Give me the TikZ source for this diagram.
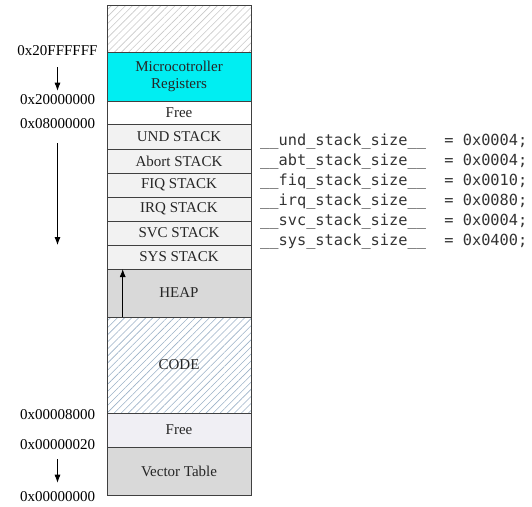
\documentclass[tikz,border=0pt]{standalone}
\usepackage{fontspec}
\setmainfont{Liberation Serif}
\setmonofont{DejaVu Sans Mono}
\usetikzlibrary{positioning,arrows.meta,patterns.meta}

\definecolor{regcyan}{RGB}{0,238,242}
\definecolor{stackgray}{RGB}{242,242,242}
\definecolor{heapgray}{RGB}{217,217,217}
\definecolor{freegray}{RGB}{240,239,244}
\definecolor{edgegray}{RGB}{64,64,64}
\definecolor{hatchgray}{RGB}{200,200,200}
\definecolor{hatchblue}{RGB}{155,177,199}

\tikzset{
  memrow/.style={draw=edgegray, line width=1pt, minimum width=144pt, outer sep=0pt, inner sep=0pt,
    text=black!85, font=\fontsize{15}{17}\selectfont, align=center},
  addr/.style={inner sep=0pt, font=\fontsize{15}{17}\selectfont},
  codetxt/.style={inner sep=0pt, anchor=base west, font=\ttfamily\fontsize{15.3}{18}\selectfont, text=black!80},
  hatch/.style={pattern={Lines[angle=45,distance=5pt,line width=0.6pt]}, pattern color=#1},
  growarrow/.style={-{Latex[length=8pt,width=6pt]}, line width=0.8pt},
}

\begin{document}
\begin{tikzpicture}[x=1pt,y=-1pt]

    \useasboundingbox (0,0) rectangle (532,506);

    % memory map, top to bottom
    \node[memrow, hatch=hatchgray, minimum height=47pt, anchor=north] (spare) at (179,5) {};
    \node[memrow, fill=regcyan, minimum height=49pt, below=0pt of spare] (regs) {Microcotroller\\Registers};
    \node[memrow, fill=white, minimum height=23.5pt, below=0pt of regs] (freehi) {Free};
    \node[memrow, fill=stackgray, minimum height=24.5pt, below=0pt of freehi] (und) {UND STACK};
    \node[memrow, fill=stackgray, minimum height=24pt, below=0pt of und] (abt) {Abort STACK};
    \node[memrow, fill=stackgray, minimum height=24pt, below=0pt of abt] (fiq) {FIQ STACK};
    \node[memrow, fill=stackgray, minimum height=24pt, below=0pt of fiq] (irq) {IRQ STACK};
    \node[memrow, fill=stackgray, minimum height=24pt, below=0pt of irq] (svc) {SVC STACK};
    \node[memrow, fill=stackgray, minimum height=24pt, below=0pt of svc] (sys) {SYS STACK};
    \node[memrow, fill=heapgray, minimum height=48pt, below=0pt of sys] (heap) {HEAP};
    \node[memrow, hatch=hatchblue, minimum height=96pt, below=0pt of heap] (code) {CODE};
    \node[memrow, fill=freegray, minimum height=34pt, below=0pt of code] (freelo) {Free};
    \node[memrow, fill=heapgray, minimum height=48pt, below=0pt of freelo] (vect) {Vector Table};

    \draw[growarrow] ([xshift=15.7pt]heap.south west) -- ([xshift=15.7pt]heap.north west);

    % addresses
    \node[addr] (a20f) at (57.5,51) {0x20FFFFFF};
    \node[addr] (a200) at (57.5,100) {0x20000000};
    \node[addr] (a080) at (57.5,124) {0x08000000};
    \node[addr] (a008) at (57.5,415) {0x00008000};
    \node[addr] (a020) at (57.5,445) {0x00000020};
    \node[addr] (a000) at (57.5,497) {0x00000000};
    \coordinate (stackend) at (57.5,245);

    \draw[growarrow, shorten <=11pt, shorten >=4pt] (a20f) -- (a200);
    \draw[growarrow, shorten <=14pt] (a080) -- (stackend);
    \draw[growarrow, shorten <=9pt, shorten >=9pt] (a020) -- (a000);

    % stack sizes
    \foreach \m/\s [count=\i] in {und/0x0004, abt/0x0004, fiq/0x0010, irq/0x0080, svc/0x0004, sys/0x0400}
    \node[codetxt] (size\m) at (260,125.5+20*\i) {\_\_\m\_stack\_size\_\_\ \ =\ \s;};

\end{tikzpicture}
\end{document}
